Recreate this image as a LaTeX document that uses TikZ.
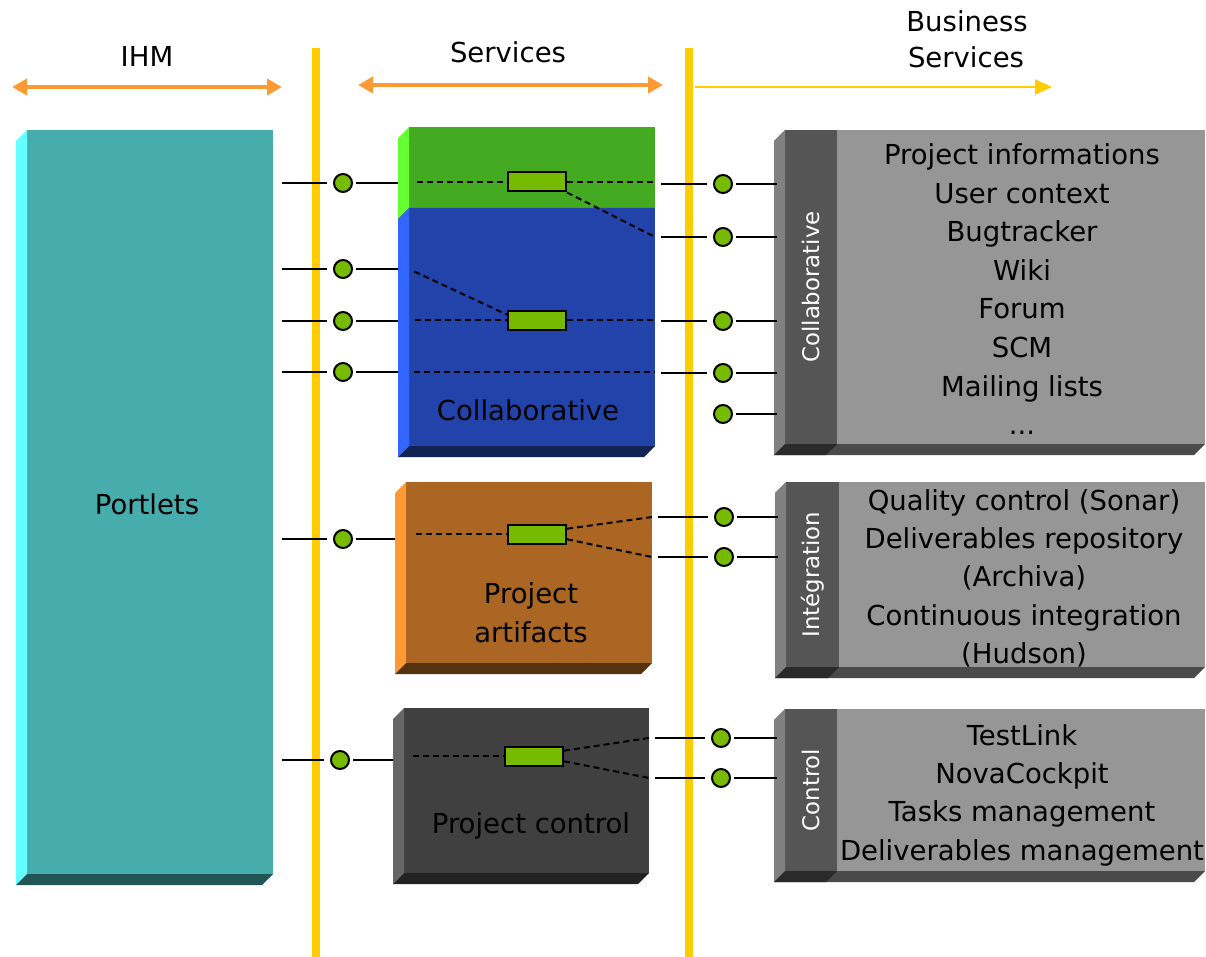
\documentclass[tikz,border=0pt]{standalone}
\usepackage{fontspec}
\setmainfont{DejaVu Sans}
\usetikzlibrary{arrows.meta}

\definecolor{orangearrow}{HTML}{FF9933}
\definecolor{yellowbar}{HTML}{FFCC00}
\definecolor{plugreen}{HTML}{77BB00}
\definecolor{tealfront}{HTML}{46ACAC}
\definecolor{tealside}{HTML}{66FFFF}
\definecolor{tealbottom}{HTML}{225555}
\definecolor{greenfront}{HTML}{44AA22}
\definecolor{greenside}{HTML}{66FF33}
\definecolor{greenbottom}{HTML}{226611}
\definecolor{bluefront}{HTML}{2244AA}
\definecolor{blueside}{HTML}{3366FF}
\definecolor{bluebottom}{HTML}{112255}
\definecolor{brownfront}{HTML}{AA6622}
\definecolor{brownside}{HTML}{FF9933}
\definecolor{brownbottom}{HTML}{553311}
\definecolor{darkfront}{HTML}{404040}
\definecolor{darkside}{HTML}{666666}
\definecolor{darkbottom}{HTML}{222222}
\definecolor{greyfront}{HTML}{969696}
\definecolor{greyside}{HTML}{808080}
\definecolor{greybottom}{HTML}{4A4A4A}
\definecolor{stripgrey}{HTML}{555555}
\definecolor{stripbottom}{HTML}{2A2A2A}

% left and bottom faces of a slab: node, side colour, bottom colour
\newcommand{\slabsides}[3]{%
    \fill[#2] (#1.north west) -- ++(-11,11) -- ([shift={(-11,11)}]#1.south west) -- (#1.south west) -- cycle;
    \fill[#3] (#1.south west) -- ++(-11,11) -- ([shift={(-11,11)}]#1.south east) -- (#1.south east) -- cycle;
}

\begin{document}
\begin{tikzpicture}[x=1pt, y=-1pt,
    face/.style={rectangle, inner sep=0pt, outer sep=0pt, anchor=north west},
    port/.style={circle, draw, line width=2pt, fill=plugreen, minimum size=18pt, inner sep=0pt},
    plug/.style={rectangle, draw, line width=2pt, fill=plugreen, minimum width=58pt, minimum height=19pt, inner sep=0pt},
    wire/.style={line width=2pt},
    link/.style={line width=2pt, dash pattern=on 6pt off 4pt},
    vlabel/.style={rotate=90, text=white, font=\fontsize{22.8}{27}\selectfont},
    every node/.append style={font=\fontsize{27.5}{33}\selectfont}]

    \useasboundingbox (0,0) rectangle (1206,957);

    %draw column headers
    \node[anchor=base] (ihm) at (147,67) {IHM};
    \node[anchor=base] (services) at (508,63) {Services};
    \node[anchor=base] (business) at (967,32) {Business};
    \node[anchor=base] (business2) at (966,68) {Services};

    \coordinate (ihmL) at (12,87);
    \coordinate (ihmR) at (282,87);
    \coordinate (svcL) at (358,85);
    \coordinate (svcR) at (663,85);
    \coordinate (bizL) at (695,87);
    \coordinate (bizR) at (1052,87);
    \draw[orangearrow, line width=4pt, {Triangle[length=15pt,width=16pt]}-{Triangle[length=15pt,width=16pt]}] (ihmL) -- (ihmR);
    \draw[orangearrow, line width=4pt, {Triangle[length=15pt,width=16pt]}-{Triangle[length=15pt,width=16pt]}] (svcL) -- (svcR);
    \draw[yellowbar, line width=2pt, -{Triangle[length=17pt,width=15pt]}] (bizL) -- (bizR);

    %draw separators
    \draw[yellowbar, line width=8pt] (316,48) -- (316,957);
    \draw[yellowbar, line width=8pt] (689,48) -- (689,957);

    %draw portlets
    \node[face, fill=tealfront, minimum width=246, minimum height=744] (portlets) at (27,130) {};
    \slabsides{portlets}{tealside}{tealbottom}
    \node[anchor=base] (portletstxt) at (147,514) {Portlets};

    %draw services
    \node[face, fill=greenfront, minimum width=246, minimum height=81] (greensvc) at (409,127) {};
    \slabsides{greensvc}{greenside}{greenbottom}
    \node[face, fill=bluefront, minimum width=246, minimum height=238] (collabsvc) at (409,208) {};
    \slabsides{collabsvc}{blueside}{bluebottom}
    \node[anchor=base] (collabtxt) at (528,420) {Collaborative};

    \node[face, fill=brownfront, minimum width=246, minimum height=181] (artifactsvc) at (406,482) {};
    \slabsides{artifactsvc}{brownside}{brownbottom}
    \node[anchor=base] (artifacttxt) at (531,603) {Project};
    \node[anchor=base] (artifacttxt2) at (531,642) {artifacts};

    \node[face, fill=darkfront, minimum width=245, minimum height=165] (controlsvc) at (404,708) {};
    \slabsides{controlsvc}{darkside}{darkbottom}
    \node[anchor=base] (controltxt) at (531,833) {Project control};

    %draw business services
    \node[face, fill=greyfront, minimum width=420, minimum height=314] (collabbiz) at (785,130) {};
    \slabsides{collabbiz}{greyside}{greybottom}
    \node[face, fill=stripgrey, minimum width=52, minimum height=314] (collabstrip) at (785,130) {};
    \slabsides{collabstrip}{greyside}{stripbottom}
    \node[vlabel] (collablbl) at (collabstrip.center) {Collaborative};
    \foreach \t [count=\i from 0] in {Project informations, User context, Bugtracker, Wiki, Forum, SCM, Mailing lists}
        \node[anchor=base] (collabitem\i) at (1022,165+38.5*\i) {\t};
    \node[anchor=base] (collabmore) at (1022,434.5) {...};

    \node[face, fill=greyfront, minimum width=419, minimum height=185] (integbiz) at (786,482) {};
    \slabsides{integbiz}{greyside}{greybottom}
    \node[face, fill=stripgrey, minimum width=53, minimum height=185] (integstrip) at (786,482) {};
    \slabsides{integstrip}{greyside}{stripbottom}
    \node[vlabel] (integlbl) at (integstrip.center) {Intégration};
    \foreach \t [count=\i from 0] in {Quality control (Sonar), Deliverables repository, (Archiva), Continuous integration, (Hudson)}
        \node[anchor=base] (integitem\i) at (1024,510+38.4*\i) {\t};

    \node[face, fill=greyfront, minimum width=420, minimum height=162] (controlbiz) at (785,709) {};
    \slabsides{controlbiz}{greyside}{greybottom}
    \node[face, fill=stripgrey, minimum width=52, minimum height=162] (controlstrip) at (785,709) {};
    \slabsides{controlstrip}{greyside}{stripbottom}
    \node[vlabel] (controllbl) at (controlstrip.center) {Control};
    \foreach \t [count=\i from 0] in {TestLink, NovaCockpit, Tasks management, Deliverables management}
        \node[anchor=base] (controlitem\i) at (1022,745+38.4*\i) {\t};

    %draw plugs inside services
    \node[plug] (pg) at (537,182) {};
    \node[plug] (pb) at (537,320) {};
    \node[plug] (pa) at (537,534) {};
    \node[plug] (pc) at (534,756) {};

    %draw ports
    \node[port] (pl1) at (343,183) {};
    \node[port] (pl2) at (343,269) {};
    \node[port] (pl3) at (343,321) {};
    \node[port] (pl4) at (343,372) {};
    \node[port] (pl5) at (343,539) {};
    \node[port] (pl6) at (340,760) {};

    \node[port] (pr1) at (723,184) {};
    \node[port] (pr2) at (723,237) {};
    \node[port] (pr3) at (723,321) {};
    \node[port] (pr4) at (723,373) {};
    \node[port] (pr5) at (723,414) {};
    \node[port] (pr6) at (724,517) {};
    \node[port] (pr7) at (724,557) {};
    \node[port] (pr8) at (721,738) {};
    \node[port] (pr9) at (721,778) {};

    %draw wires on the left
    \foreach \n in {1,...,6}
        \draw[wire, shorten <=9pt, shorten >=6pt] (portlets.east |- pl\n) -- (pl\n);
    \foreach \n/\b in {1/greensvc, 2/collabsvc, 3/collabsvc, 4/collabsvc, 5/artifactsvc, 6/controlsvc}
        \draw[wire, shorten <=3pt, shorten >=11pt] (pl\n) -- (\b.west |- pl\n);

    %draw wires on the right
    \foreach \n/\b in {1/greensvc, 2/collabsvc, 3/collabsvc, 4/collabsvc, 6/artifactsvc, 7/artifactsvc, 8/controlsvc, 9/controlsvc}
        \draw[wire, shorten <=6pt, shorten >=6pt] (\b.east |- pr\n) -- (pr\n);
    \foreach \n/\b in {1/collabbiz, 2/collabbiz, 3/collabbiz, 4/collabbiz, 5/collabbiz, 6/integbiz, 7/integbiz, 8/controlbiz, 9/controlbiz}
        \draw[wire, shorten <=3pt, shorten >=8pt] (pr\n) -- (\b.west |- pr\n);

    %draw dashed links inside services
    \draw[link, shorten <=8pt] (greensvc.west |- pg) -- (pg);
    \draw[link] (pg) -- (greensvc.east |- pg);
    \draw[link] (pg.south east) -- (collabsvc.east |- pr2);
    \draw[link, shorten <=6pt] (collabsvc.west |- pl2) -- (pb.170);
    \draw[link, shorten <=6pt] (collabsvc.west |- pb) -- (pb);
    \draw[link] (pb) -- (collabsvc.east |- pb);
    \draw[link, shorten <=5pt] (collabsvc.west |- pl4) -- (collabsvc.east |- pl4);
    \draw[link, shorten <=10pt] (artifactsvc.west |- pa) -- (pa);
    \draw[link] (pa.10) -- (artifactsvc.east |- pr6);
    \draw[link] (pa.-10) -- (artifactsvc.east |- pr7);
    \draw[link, shorten <=9pt] (controlsvc.west |- pc) -- (pc);
    \draw[link] (pc.10) -- (controlsvc.east |- pr8);
    \draw[link] (pc.-10) -- (controlsvc.east |- pr9);

\end{tikzpicture}
\end{document}
